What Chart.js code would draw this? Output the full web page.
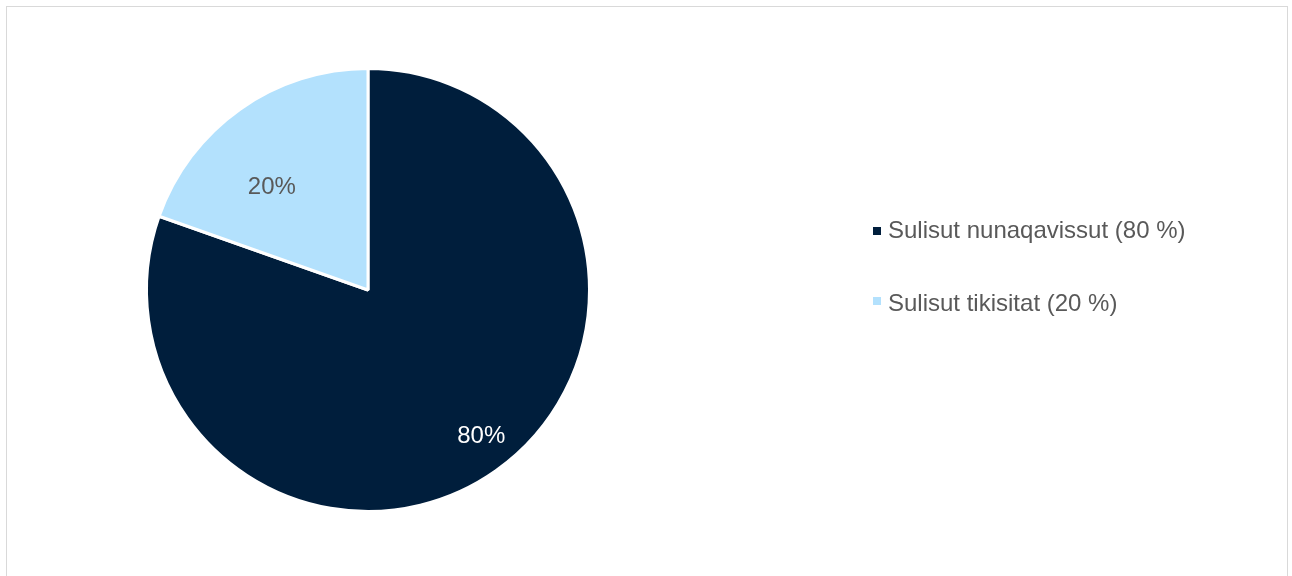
<!DOCTYPE html>
<html>
<head>
<meta charset="utf-8">
<script src="https://cdn.jsdelivr.net/npm/chart.js@4/dist/chart.umd.min.js"></script>
<style>
  html, body { margin: 0; padding: 0; background: #fff; overflow: hidden; }
  #wrap { position: relative; width: 1292px; height: 576px; }
  #frame { position: absolute; left: 6px; top: 6px; width: 1282px; height: 600px; border: 1px solid #d9d9d9; box-sizing: border-box; }
  #c { position: absolute; left: 0; top: 0; }
</style>
</head>
<body>
<div id="wrap">
  <div id="frame"></div>
  <canvas id="c" width="1292" height="576"></canvas>
</div>
<script>
const categories = ["Sulisut nunaqavissut (80 %)", "Sulisut tikisitat (20 %)"];
const values = [80.4, 19.6];
const valueLabels = ["80%", "20%"];
const colors = ["#001e3c", "#b3e1fd"];
const labelColors = ["#ffffff", "#595959"];
const labelRadiusFrac = [0.825, 0.645];
const labelAngleShiftDeg = [-3, -7];

const FONT = "'Liberation Sans', Arial, sans-serif";
const CAP_HALF = 8.5;

const sliceLabels = {
  id: 'sliceLabels',
  afterDatasetsDraw(chart) {
    const ctx = chart.ctx;
    const meta = chart.getDatasetMeta(0);
    ctx.save();
    ctx.font = "24px " + FONT;
    ctx.textAlign = 'center';
    ctx.textBaseline = 'alphabetic';
    meta.data.forEach((arc, i) => {
      const p = arc.getProps(['x', 'y', 'startAngle', 'endAngle', 'outerRadius'], true);
      const mid = (p.startAngle + p.endAngle) / 2 + labelAngleShiftDeg[i] * Math.PI / 180;
      const r = p.outerRadius * labelRadiusFrac[i];
      ctx.fillStyle = labelColors[i];
      ctx.fillText(valueLabels[i], p.x + Math.cos(mid) * r, p.y + Math.sin(mid) * r + CAP_HALF + 1);
    });
    ctx.restore();
  }
};

const sideLegend = {
  id: 'sideLegend',
  afterDraw(chart) {
    const ctx = chart.ctx;
    ctx.save();
    ctx.font = "24px " + FONT;
    ctx.textBaseline = 'alphabetic';
    ctx.textAlign = 'left';
    const x0 = 873;
    categories.forEach((lab, i) => {
      const sy = 230.5 + i * 70;
      const ty = 237.5 + i * 73.5;
      ctx.fillStyle = colors[i];
      ctx.fillRect(x0, Math.round(sy - 4), 8, 8);
      ctx.fillStyle = '#595959';
      ctx.fillText(lab, x0 + 15, ty);
    });
    ctx.restore();
  }
};

new Chart(document.getElementById('c'), {
  type: 'pie',
  data: {
    labels: categories,
    datasets: [{
      data: values,
      backgroundColor: colors,
      borderColor: '#ffffff',
      borderWidth: 3,
      hoverOffset: 0
    }]
  },
  options: {
    responsive: false,
    animation: false,
    events: [],
    layout: { padding: { left: 145, right: 701, top: 67, bottom: 63 } },
    plugins: {
      legend: { display: false },
      tooltip: { enabled: false },
      title: { display: false }
    }
  },
  plugins: [sliceLabels, sideLegend]
});
</script>
</body>
</html>
